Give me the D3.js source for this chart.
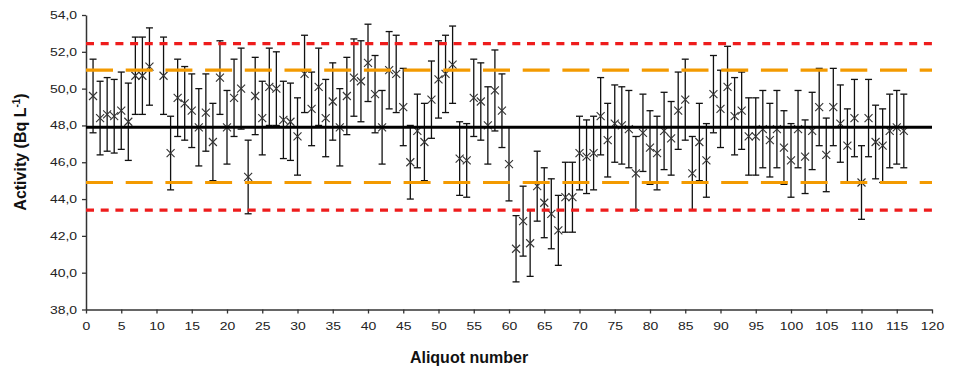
<!DOCTYPE html>
<html>
<head>
<meta charset="utf-8">
<script src="https://cdn.jsdelivr.net/npm/d3@7"></script>
<style>
  body { margin: 0; background: #fff; }
  svg { display: block; }
  .tick text { font-family: "Liberation Sans", Arial, sans-serif; font-size: 11px; fill: #222; }
  .title { font-family: "Liberation Sans", Arial, sans-serif; font-size: 16px; font-weight: bold; fill: #111; }
</style>
</head>
<body>
<svg id="chart" width="958" height="373"></svg>
<script>
// aliquot numbers (no. 10 is missing in the reference)
var aliquots = [1, 2, 3, 4, 5, 6, 7, 8, 9,
  11, 12, 13, 14, 15, 16, 17, 18, 19, 20,
  21, 22, 23, 24, 25, 26, 27, 28, 29, 30,
  31, 32, 33, 34, 35, 36, 37, 38, 39, 40,
  41, 42, 43, 44, 45, 46, 47, 48, 49, 50,
  51, 52, 53, 54, 55, 56, 57, 58, 59, 60,
  61, 62, 63, 64, 65, 66, 67, 68, 69, 70,
  71, 72, 73, 74, 75, 76, 77, 78, 79, 80,
  81, 82, 83, 84, 85, 86, 87, 88, 89, 90,
  91, 92, 93, 94, 95, 96, 97, 98, 99, 100,
  101, 102, 103, 104, 105, 106, 107, 108, 109, 110,
  111, 112, 113, 114, 115, 116];

// measured activity (Bq/L)
var activity = [49.6, 48.4, 48.6, 48.5, 48.8, 48.2, 50.7, 50.7, 51.2,
  50.7, 46.5, 49.5, 49.2, 48.8, 47.9, 48.7, 47.1, 50.6, 47.9,
  49.5, 50.0, 45.2, 49.6, 48.4, 50.1, 50.0, 48.3, 48.2, 47.4,
  50.8, 48.9, 50.1, 48.4, 49.3, 47.9, 49.6, 50.6, 50.4, 51.4,
  49.7, 47.9, 51.0, 50.8, 49.0, 46.0, 47.7, 47.1, 49.4, 50.5,
  50.8, 51.3, 46.2, 46.1, 49.5, 49.3, 48.0, 49.9, 48.8, 45.9,
  41.3, 42.8, 41.6, 44.7, 43.8, 43.2, 42.3, 44.1, 44.1, 46.5,
  46.3, 46.5, 48.5, 47.2, 48.1, 48.0, 47.8, 45.4, 47.6, 46.8,
  46.5, 47.7, 47.3, 48.8, 49.4, 45.4, 47.1, 46.1, 49.7, 48.9,
  50.1, 48.5, 48.8, 47.4, 47.4, 47.8, 47.2, 47.8, 46.8, 46.1,
  47.8, 46.3, 47.7, 49.0, 46.4, 49.0, 48.1, 46.9, 48.4, 44.9,
  48.4, 47.1, 46.9, 47.7, 47.9, 47.7];

// uncertainty (half length of error bar)
var uncertainty = [2.0, 2.0, 2.0, 2.0, 2.1, 2.1, 2.1, 2.1, 2.1,
  2.1, 2.0, 2.1, 2.0, 2.0, 2.1, 2.1, 2.1, 2.0, 2.0,
  2.1, 2.2, 2.0, 2.1, 2.0, 2.1, 2.0, 2.1, 2.1, 2.1,
  2.1, 2.0, 2.1, 2.1, 2.1, 2.1, 2.1, 2.1, 2.2, 2.1,
  2.1, 2.0, 2.1, 2.1, 2.1, 2.0, 2.0, 2.1, 2.1, 2.1,
  2.1, 2.1, 2.0, 2.0, 2.1, 2.1, 2.1, 2.2, 2.0, 2.0,
  1.8, 1.9, 1.8, 1.9, 1.9, 1.9, 1.9, 1.9, 1.9, 2.0,
  2.0, 2.0, 2.1, 2.0, 2.1, 2.1, 2.1, 2.0, 2.1, 2.0,
  2.0, 2.1, 2.0, 2.1, 2.2, 2.0, 2.1, 2.0, 2.1, 2.1,
  2.2, 2.1, 2.1, 2.1, 2.1, 2.1, 2.0, 2.1, 2.0, 2.0,
  2.1, 2.0, 2.1, 2.1, 2.0, 2.1, 2.1, 2.0, 2.1, 2.0,
  2.1, 2.0, 2.0, 2.0, 2.0, 2.0];

var refValue = 47.9;
var warningLimits = [51.0, 44.9];
var actionLimits = [52.45, 43.4];

var xTicks = [0, 5, 10, 15, 20, 25, 30, 35, 40, 45, 50, 55, 60, 65, 70, 75, 80, 85, 90, 95, 100, 105, 110, 115, 120];
var yTicks = [38, 40, 42, 44, 46, 48, 50, 52, 54];

var width = 958, height = 373;
var margin = {top: 15, right: 26, bottom: 63.5, left: 86};

var svg = d3.select("#chart");

var x = d3.scaleLinear().domain([0, 120]).range([margin.left, width - margin.right]);
var y = d3.scaleLinear().domain([38, 54]).range([height - margin.bottom, margin.top]);

var points = aliquots.map(function(a, i) {
  return {n: a, v: activity[i], e: uncertainty[i]};
});

var fmt = function(d) { return d.toFixed(1).replace(".", ","); };

// axes
var yAxis = svg.append("g")
  .attr("transform", "translate(" + margin.left + ",0)")
  .call(d3.axisLeft(y).tickValues(yTicks).tickFormat(fmt).tickSize(4).tickSizeOuter(0).tickPadding(3));

var xAxis = svg.append("g")
  .attr("transform", "translate(0," + (height - margin.bottom) + ")")
  .call(d3.axisBottom(x).tickValues(xTicks).tickSize(4).tickSizeOuter(0).tickPadding(9));

[xAxis, yAxis].forEach(function(ax) {
  ax.select(".domain").attr("stroke", "#333").attr("stroke-width", 1.5);
  ax.selectAll(".tick line").attr("stroke", "#333").attr("stroke-width", 1.3);
  ax.selectAll(".tick text").attr("transform", "scale(1.27,1)");
});

// error bars + markers
var capW = 3.5, mk = 4;
var pg = svg.append("g").attr("class", "points");

pg.selectAll("line.err")
  .data(points).enter().append("line")
  .attr("class", "err")
  .attr("x1", function(d) { return x(d.n); })
  .attr("x2", function(d) { return x(d.n); })
  .attr("y1", function(d) { return y(d.v + d.e); })
  .attr("y2", function(d) { return y(d.v - d.e); })
  .attr("stroke", "#111").attr("stroke-width", 1.3);

pg.selectAll("line.capTop")
  .data(points).enter().append("line")
  .attr("class", "capTop")
  .attr("x1", function(d) { return x(d.n) - capW; })
  .attr("x2", function(d) { return x(d.n) + capW; })
  .attr("y1", function(d) { return y(d.v + d.e); })
  .attr("y2", function(d) { return y(d.v + d.e); })
  .attr("stroke", "#111").attr("stroke-width", 1.3);

pg.selectAll("line.capBot")
  .data(points).enter().append("line")
  .attr("class", "capBot")
  .attr("x1", function(d) { return x(d.n) - capW; })
  .attr("x2", function(d) { return x(d.n) + capW; })
  .attr("y1", function(d) { return y(d.v - d.e); })
  .attr("y2", function(d) { return y(d.v - d.e); })
  .attr("stroke", "#111").attr("stroke-width", 1.3);

pg.selectAll("path.mark")
  .data(points).enter().append("path")
  .attr("class", "mark")
  .attr("d", function(d) {
    var cx = x(d.n), cy = y(d.v);
    return "M" + (cx - mk) + "," + (cy - mk) + "L" + (cx + mk) + "," + (cy + mk) +
           "M" + (cx - mk) + "," + (cy + mk) + "L" + (cx + mk) + "," + (cy - mk);
  })
  .attr("fill", "none").attr("stroke", "#333").attr("stroke-width", 1.1);

// reference / limit lines, drawn over the points like the original
var lg = svg.append("g").attr("class", "limits");

lg.selectAll("line.action")
  .data(actionLimits).enter().append("line")
  .attr("x1", x(0)).attr("x2", x(120))
  .attr("y1", function(d) { return y(d); })
  .attr("y2", function(d) { return y(d); })
  .attr("stroke", "#ee1c1c").attr("stroke-width", 3.2)
  .attr("stroke-dasharray", "8,6.7");

lg.selectAll("line.warning")
  .data(warningLimits).enter().append("line")
  .attr("x1", x(0)).attr("x2", x(120))
  .attr("y1", function(d) { return y(d); })
  .attr("y2", function(d) { return y(d); })
  .attr("stroke", "#f39a00").attr("stroke-width", 3.2)
  .attr("stroke-dasharray", "27,12.7");

lg.append("line")
  .attr("x1", x(0)).attr("x2", x(120))
  .attr("y1", y(refValue)).attr("y2", y(refValue))
  .attr("stroke", "#000").attr("stroke-width", 3);

// titles
svg.append("text")
  .attr("class", "title")
  .attr("x", 469).attr("y", 363)
  .attr("text-anchor", "middle")
  .text("Aliquot number");

var yt = svg.append("text")
  .attr("class", "title")
  .attr("transform", "translate(26,152) rotate(-90)")
  .attr("text-anchor", "middle");
yt.append("tspan").text("Activity (Bq L");
yt.append("tspan").attr("dy", -6).style("font-size", "10px").text("-1");
yt.append("tspan").attr("dy", 6).text(")");
</script>
</body>
</html>
